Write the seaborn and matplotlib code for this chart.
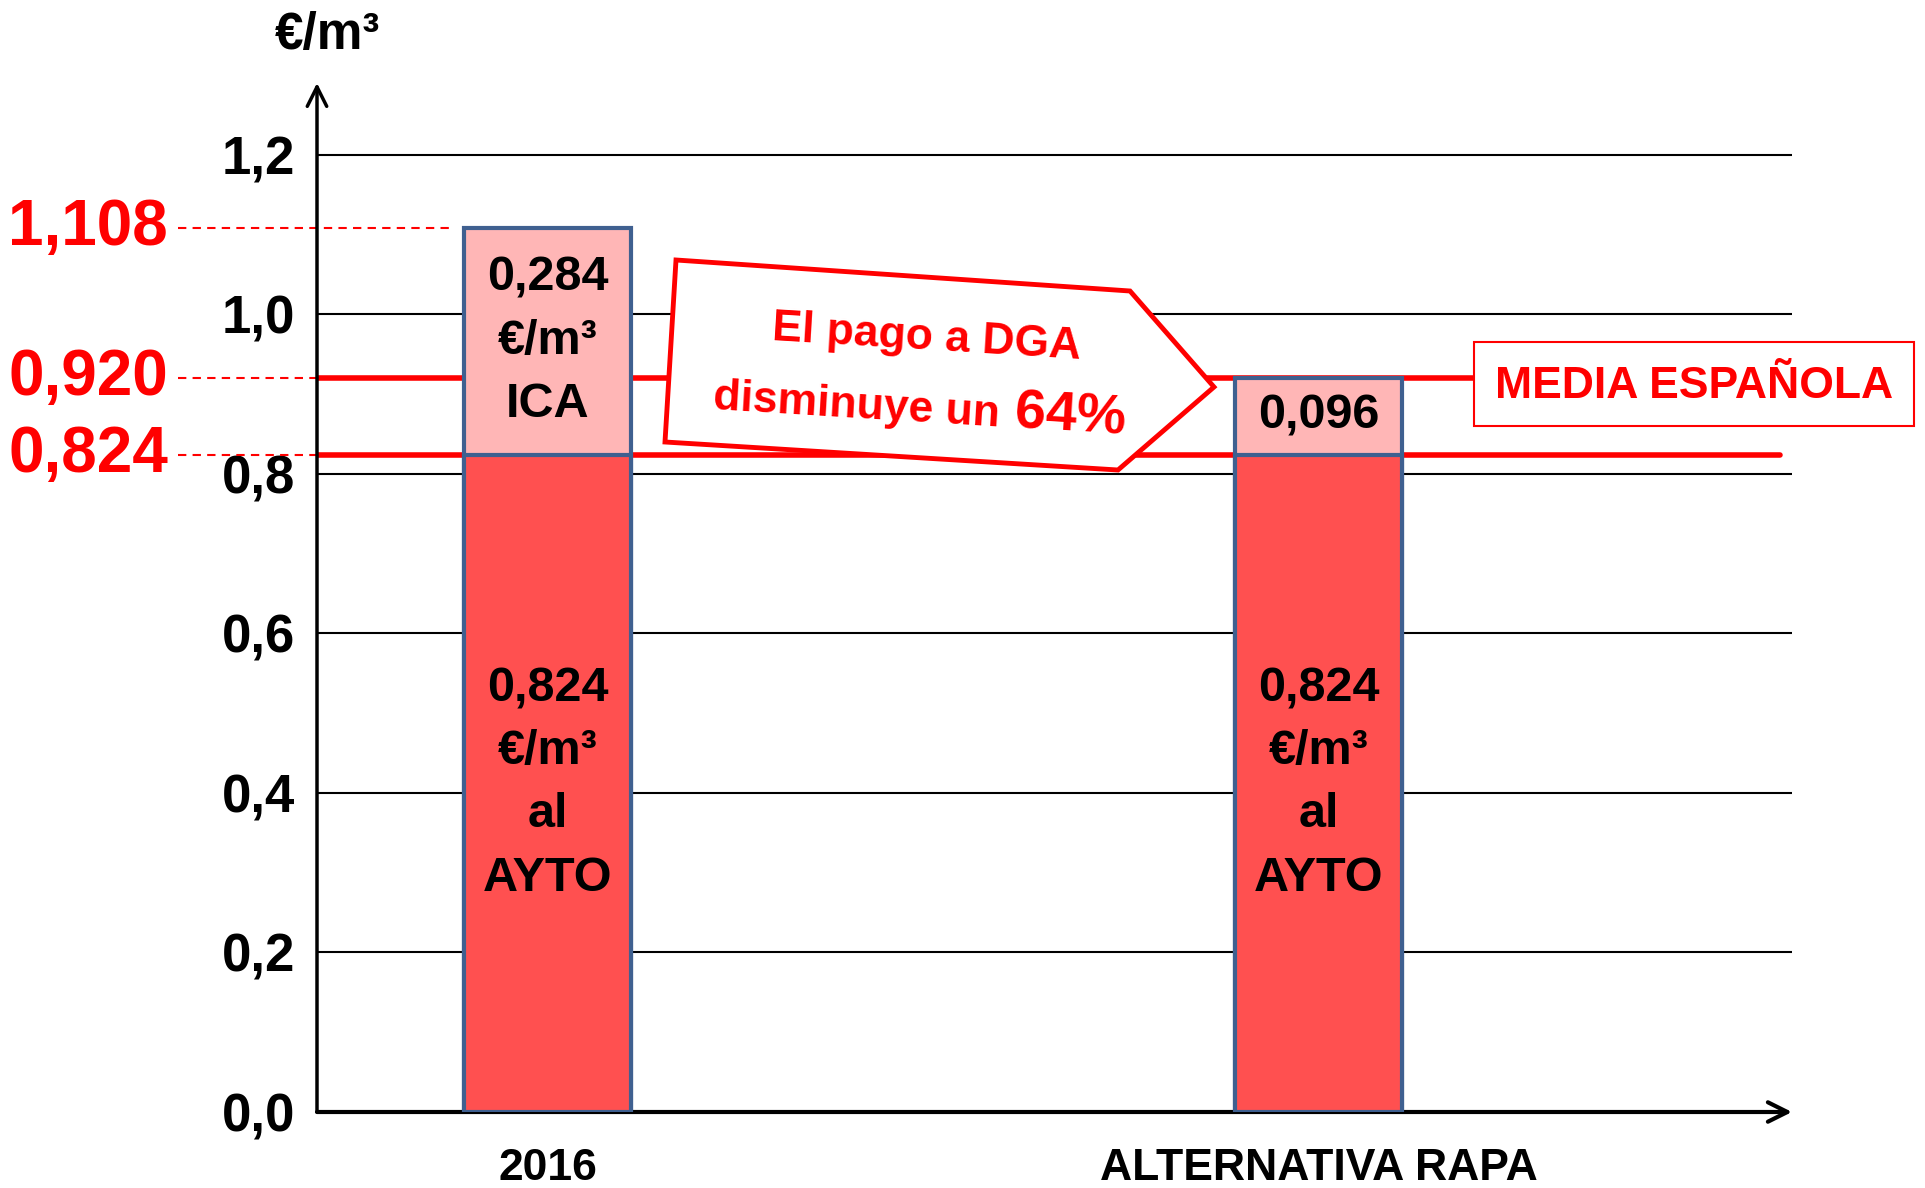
import numpy as np
import pandas as pd
import matplotlib
matplotlib.use('Agg')
import matplotlib.pyplot as plt
from matplotlib.patches import Polygon, Rectangle
import seaborn as sns

# datos
categorias = ['2016', 'ALTERNATIVA RAPA']
ayto = [0.824, 0.824]          # parte del ayuntamiento
dga = [0.284, 0.096]           # ICA / pago a DGA
totales = [a + d for a, d in zip(ayto, dga)]
media_espanola = 0.920
ref_valores = [1.108, 0.920, 0.824]
yticks = [0.0, 0.2, 0.4, 0.6, 0.8, 1.0, 1.2]

ROJO = '#FF5050'
ROSA = '#FFB6B6'
BORDE = '#3F6090'
RED = '#FF0000'

sns.set_style('white')
plt.rcParams['font.family'] = ['Liberation Sans', 'DejaVu Sans']
plt.rcParams['font.weight'] = 'bold'
plt.rcParams['text.color'] = 'black'
plt.rcParams['xtick.color'] = 'black'
plt.rcParams['ytick.color'] = 'black'

W, H = 1925, 1188
fig = plt.figure(figsize=(W / 100, H / 100), dpi=100)
ax = fig.add_axes([317 / W, 1 - 1112 / H, (1792 - 317) / W, (1112 - 83) / H])


def fx(px):
    return px / W


def fy(py):
    return 1 - py / H


df = pd.DataFrame({'cat': categorias, 'total': totales, 'ayto': ayto})

# rejilla
for t in yticks[1:]:
    ax.plot([0, 1.0], [t, t], color='black', lw=1.5, transform=ax.get_yaxis_transform(), zorder=1)

# lineas rojas de referencia
ax.plot([0, 0.784], [media_espanola, media_espanola], color=RED, lw=4, transform=ax.get_yaxis_transform(), zorder=2)
ax.plot([0, 0.992], [ayto[0], ayto[0]], color=RED, lw=4, transform=ax.get_yaxis_transform(), zorder=2)

# barras apiladas
sns.barplot(data=df, x='cat', y='total', color=ROSA, saturation=1, width=0.217,
            edgecolor=BORDE, linewidth=3, ax=ax, zorder=3)
sns.barplot(data=df, x='cat', y='ayto', color=ROJO, saturation=1, width=0.217,
            edgecolor=BORDE, linewidth=3, ax=ax, zorder=4)

ax.set_xlim(-0.299, 1.614)
ax.set_ylim(0, 1.29)
ax.set_xlabel('')
ax.set_ylabel('')
for s in ax.spines.values():
    s.set_visible(False)

ax.set_yticks(yticks)
ax.set_yticklabels([f'{t:.1f}'.replace('.', ',') for t in yticks], fontsize=38, fontweight='bold')
ax.tick_params(axis='y', length=0, pad=16)
ax.set_xticks(range(len(categorias)))
ax.set_xticklabels(categorias, fontsize=32, fontweight='bold')
ax.tick_params(axis='x', length=0, pad=26)

# ejes con flecha
ax.annotate('', xy=(0, 1), xytext=(0, 0), xycoords='axes fraction',
            arrowprops=dict(arrowstyle='->', lw=2.5, color='black', mutation_scale=35, shrinkA=0, shrinkB=0))
ax.annotate('', xy=(1, 0), xytext=(0, 0), xycoords='axes fraction',
            arrowprops=dict(arrowstyle='->', lw=3, color='black', mutation_scale=35, shrinkA=0, shrinkB=0))

# textos en las barras
for i in range(len(categorias)):
    ax.text(i, ayto[i] / 2, f'{ayto[i]:.3f}'.replace('.', ',') + '\n€/m³\nal\nAYTO',
            ha='center', va='center', fontsize=35, fontweight='bold', linespacing=1.52, zorder=5)
ax.text(0, ayto[0] + dga[0] / 2, f'{dga[0]:.3f}'.replace('.', ',') + '\n€/m³\nICA',
        ha='center', va='center', fontsize=35, fontweight='bold', linespacing=1.52, zorder=5)
ax.text(1, ayto[1] + dga[1] / 2, f'{dga[1]:.3f}'.replace('.', ','),
        ha='center', va='center', fontsize=35, fontweight='bold', zorder=5)

# etiquetas rojas a la izquierda
tr = ax.get_yaxis_transform()
ends = [0.093, 0.0, 0.008]
for v, e in zip(ref_valores, ends):
    ax.plot([-0.094, e], [v, v], color=RED, lw=1.5, ls=(0, (4, 3)), transform=tr, clip_on=False, zorder=2)
    ax.text(-0.101, v, f'{v:.3f}'.replace('.', ','), transform=tr, ha='right', va='center',
            fontsize=46, fontweight='bold', color=RED, clip_on=False)

fig.text(fx(327), fy(36), '€/m³', ha='center', va='center', fontsize=37, fontweight='bold')

# flecha de la nota
pts = [(676, 260), (1130, 291), (1214, 387), (1118, 470), (665, 442)]
fig.add_artist(Polygon([(fx(x), fy(y)) for x, y in pts], closed=True, transform=fig.transFigure,
                       facecolor='white', edgecolor=RED, lw=3.5, zorder=5))
fig.text(fx(772), fy(340), 'El pago a DGA', ha='left', va='baseline', rotation=-3.5,
         rotation_mode='anchor', fontsize=32, fontweight='bold', color=RED, zorder=6)
fig.text(fx(713), fy(409), 'disminuye un', ha='left', va='baseline', rotation=-3.5,
         rotation_mode='anchor', fontsize=32, fontweight='bold', color=RED, zorder=6)
fig.text(fx(1014), fy(428), '64%', ha='left', va='baseline', rotation=-3.5,
         rotation_mode='anchor', fontsize=40, fontweight='bold', color=RED, zorder=6)

# caja media española
fig.add_artist(Rectangle((fx(1474), fy(426)), fx(1914 - 1474), (426 - 342) / H, transform=fig.transFigure,
                         facecolor='white', edgecolor=RED, lw=1.5, zorder=5))
fig.text(fx(1694), fy(386), 'MEDIA ESPAÑOLA', ha='center', va='center', fontsize=32,
         fontweight='bold', color=RED, zorder=6)

fig.savefig('out.png', dpi=100)
